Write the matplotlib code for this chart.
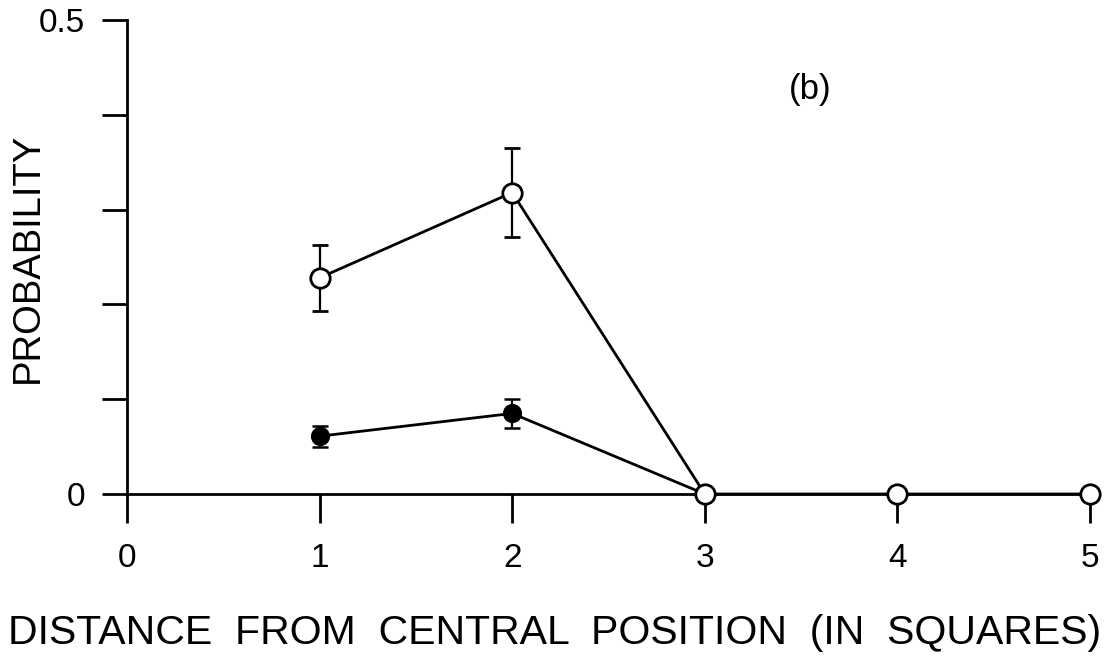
import matplotlib
matplotlib.use("Agg")
import matplotlib.pyplot as plt
from matplotlib.ticker import FixedLocator

plt.rcParams['font.family'] = ['Liberation Sans', 'DejaVu Sans']

# Distance from central position (squares)
dist_open = [1, 2, 3, 4, 5]
prob_open = [0.228, 0.318, 0.0, 0.0, 0.0]
err_open = [0.035, 0.047, 0.0, 0.0, 0.0]

dist_filled = [1, 2, 3]
prob_filled = [0.061, 0.085, 0.0]
err_filled = [0.011, 0.015, 0.0]

x_ticks = [0, 1, 2, 3, 4, 5]
y_ticks = [0.0, 0.1, 0.2, 0.3, 0.4, 0.5]
y_tick_labels = ['0', '', '', '', '', '0.5']

fig = plt.figure(figsize=(11.09, 6.58), dpi=100)
ax = fig.add_axes([127 / 1109, 164 / 658, 963 / 1109, 474 / 658])

lw = 2.0

# filled series
ax.errorbar(dist_filled, prob_filled, yerr=err_filled, fmt='-o', color='black',
            lw=lw, elinewidth=1.6, capsize=6, capthick=1.6, ms=12,
            mfc='black', mec='black', mew=1.8, clip_on=False, zorder=3)

# open series
ax.errorbar(dist_open, prob_open, yerr=err_open, fmt='-o', color='black',
            lw=lw, elinewidth=1.6, capsize=6, capthick=1.6, ms=14,
            mfc='white', mec='black', mew=2.0, clip_on=False, zorder=4)

ax.set_xlim(0, 5)
ax.set_ylim(0, 0.5)

for side in ('top', 'right'):
    ax.spines[side].set_visible(False)
ax.spines['left'].set_linewidth(2.0)
ax.spines['bottom'].set_linewidth(2.0)

ax.xaxis.set_major_locator(FixedLocator(x_ticks))
ax.set_xticklabels([str(v) for v in x_ticks])
ax.yaxis.set_major_locator(FixedLocator(y_ticks))
ax.set_yticklabels(y_tick_labels)

ax.tick_params(axis='x', direction='out', length=21, width=2.0, pad=14,
               labelsize=24)
ax.tick_params(axis='y', direction='out', length=18, width=2.0, pad=12,
               labelsize=24)

ax.text(810 / 963 - 127 / 963, (494 - 89) / 474, '(b)', transform=ax.transAxes,
        fontsize=25, ha='center', va='center')

fig.text(555 / 1109, 1 - 633 / 658, 'DISTANCE  FROM  CENTRAL  POSITION  (IN  SQUARES)',
         fontsize=29.5, ha='center', va='center')
fig.text(28 / 1109, 1 - 258 / 658, 'PROBABILITY', fontsize=27.5,
         rotation=90, ha='center', va='center')

fig.savefig('out.png', dpi=100)
